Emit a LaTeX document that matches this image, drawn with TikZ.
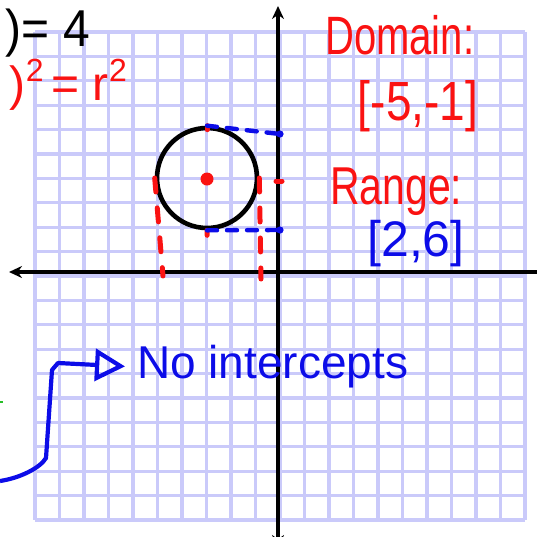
\documentclass[tikz,border=0pt]{standalone}
\usepackage{fontspec}
\setmainfont{Liberation Sans}
\usetikzlibrary{arrows.meta, calc}
\definecolor{GridLine}{RGB}{202,202,250}
\definecolor{InkRed}{RGB}{250,18,18}
\definecolor{InkBlue}{RGB}{12,12,232}
\definecolor{InkGreen}{RGB}{40,190,40}
\newcommand{\bigsup}[1]{\raisebox{0.38em}{\fontsize{32}{34}\selectfont #1}}

\begin{document}
\begin{tikzpicture}[x=1pt,y=-1pt,
    gridline/.style={GridLine,line width=3.2pt},
    axisline/.style={line width=4.6pt,{Stealth[length=13pt,width=12pt]}-{Stealth[length=13pt,width=12pt]}},
    redtxt/.style={text=InkRed,inner sep=0pt},
    bluetxt/.style={text=InkBlue,inner sep=0pt},
    reddash/.style={InkRed,line width=5pt,line cap=round,dash pattern=on 14pt off 16pt},
    bluedash/.style={InkBlue,line width=4.4pt,line cap=round,dash pattern=on 10pt off 10pt},
    redtick/.style={InkRed,line width=5pt,line cap=round},
    inkarrow/.style={InkBlue,line width=4.2pt,line join=round,-{Triangle[open,length=30pt,width=32pt,line width=4.2pt]}}
  ]
    \useasboundingbox (0,0) rectangle (537,536);
    \clip (0,0) rectangle (537,536);

    % graph paper
    \foreach \k in {0,...,20} {
      \draw[gridline] ({35+24.5*\k},32) -- ({35+24.5*\k},520);
      \draw[gridline] (35,{32+24.4*\k}) -- (525,{32+24.4*\k});
    }

    % axes
    \coordinate (yt) at (278,6);
    \coordinate (yb) at (278,548);
    \coordinate (xl) at (9,272);
    \coordinate (xr) at (552,272);
    \draw[axisline] (yb) -- (yt);
    \draw[axisline] (xr) -- (xl);

    % equations, top left
    \node[anchor=base east,inner sep=0pt,font=\fontsize{48}{52}\selectfont] (eqtop) at (90,46)
      {\scalebox{1}[1.08]{)= 4}};
    \node[redtxt,anchor=base east,font=\fontsize{48}{52}\selectfont] (eqred) at (127,100)
      {)\bigsup{2}\,= r\bigsup{2}};

    % circle and its extreme points
    \node[circle,draw,line width=4.6pt,minimum size=100pt,inner sep=0pt] (circ) at (207,178) {};
    \coordinate (ctr) at (207,179);
    \coordinate (lfoot) at (163,276);
    \coordinate (rfoot) at (261,279);
    \coordinate (mfoot) at (208,274);
    \coordinate (ytop) at (280,134);
    \coordinate (ybot) at (280,230);
    \coordinate (ymid) at (279,181);
    \fill[InkRed] (ctr) circle (6.5pt);

    % projections onto the axes
    \draw[reddash] (circ.west) -- (lfoot);
    \draw[reddash] (circ.east) -- (rfoot);
    \draw[redtick,dash pattern=on 5pt off 45pt] (circ.south) -- (mfoot);
    \draw[redtick] (circ.north) -- ++(0,4);
    \draw[redtick] ($(ymid)+(-3,0)$) -- ($(ymid)+(3,0)$);
    \draw[bluedash] (circ.north) -- (ytop);
    \draw[bluedash] (circ.south) -- (ybot);
    \fill[InkBlue] (ytop) circle (3.6pt);
    \fill[InkBlue] (ybot) circle (3.6pt);

    % domain and range
    \node[redtxt,anchor=base west,font=\fontsize{40}{44}\selectfont] (dom) at (325,54)
      {\scalebox{1}[1.35]{Domain:}};
    \node[redtxt,font=\fontsize{46}{50}\selectfont] (domval) at (418,106)
      {\scalebox{1}[1.2]{[-5,-1]}};
    \node[redtxt,anchor=base west,font=\fontsize{41}{44}\selectfont] (rng) at (330,204)
      {\scalebox{1}[1.3]{Range:}};
    \node[bluetxt,font=\fontsize{50}{54}\selectfont] (rngval) at (416,244) {[2,6]};

    % intercepts note
    \node[bluetxt,anchor=west,font=\fontsize{46}{50}\selectfont] (nointer) at (137,367) {No intercepts};
    \coordinate (swoop) at (0,481);
    \draw[inkarrow,shorten >=12pt] (swoop) .. controls (20,478) and (40,468) .. (46,458)
      -- (52,370) -- (58,363) -- (nointer.west);
    \draw[InkGreen,line width=1.5pt] (0,402) -- (3,402);
\end{tikzpicture}
\end{document}
